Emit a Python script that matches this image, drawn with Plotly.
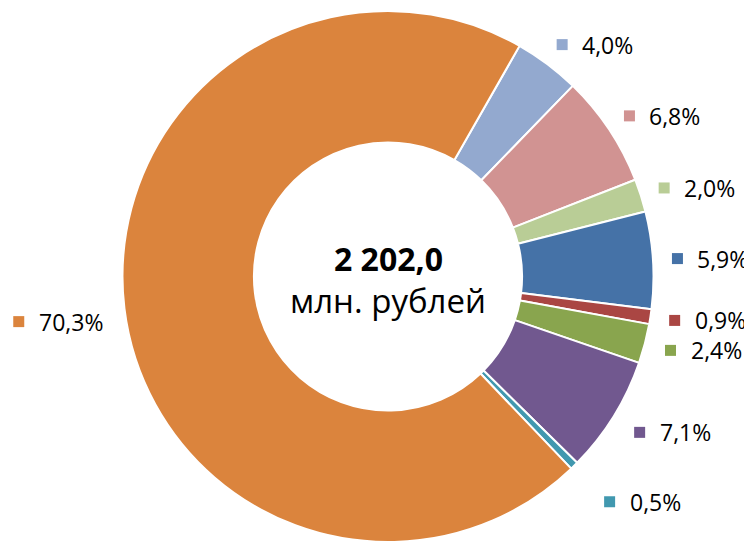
import numpy as np
import plotly.graph_objects as go

# slice shares, %, clockwise starting from the slice right after the big one
shares = [4.0, 6.8, 2.0, 5.9, 0.9, 2.4, 7.1, 0.5, 70.3]
labels = ["4,0%", "6,8%", "2,0%", "5,9%", "0,9%", "2,4%", "7,1%", "0,5%", "70,3%"]
colors = ["#93A9CF", "#D19392", "#B9CD96", "#4572A7", "#AA4643",
          "#89A54E", "#71588F", "#4198AF", "#DB843D"]
total_value = "2 202,0"
total_unit = "млн. рублей"

W, H = 752, 543
page_off = 8                      # default body margin of the html page
cx, cy, R = 388 - page_off, 276.5 - page_off, 265.5   # donut centre and radius in px
start_angle = 29.7                # first slice starts here (deg, clockwise from 12 o'clock)
label_r = [290, 290, 290, 290, 290, 292, 296, 316, 372]  # label distance from centre, px

deg = np.array(shares) / sum(shares) * 360
mid = start_angle + np.cumsum(deg) - deg / 2
mx = cx + np.array(label_r) * np.sin(np.radians(mid))
my = cy - np.array(label_r) * np.cos(np.radians(mid))

fig = go.Figure()
fig.add_trace(
    go.Pie(
        values=shares,
        sort=False,
        direction="clockwise",
        rotation=start_angle,
        hole=0.505,
        textinfo="none",
        hoverinfo="percent",
        marker=dict(colors=colors, line=dict(color="white", width=2)),
        domain=dict(x=[(cx - R) / W, (cx + R) / W], y=[1 - (cy + R) / H, 1 - (cy - R) / H]),
        showlegend=False,
    )
)
# legend keys next to data labels
fig.add_trace(
    go.Scatter(
        x=mx,
        y=my,
        mode="markers",
        marker=dict(symbol="square", size=11, color=colors, line=dict(width=0)),
        hoverinfo="skip",
        showlegend=False,
    )
)

annotations = [
    dict(x=x + 18, y=y, xref="x", yref="y", text=t, showarrow=False,
         xanchor="left", yanchor="middle", font=dict(size=23, color="#000000"))
    for x, y, t in zip(mx, my, labels)
]
annotations += [
    dict(x=cx, y=cy - 18, xref="x", yref="y", text=f"<b>{total_value}</b>", showarrow=False,
         xanchor="center", yanchor="middle", font=dict(size=32, color="#000000")),
    dict(x=cx, y=cy + 24, xref="x", yref="y", text=total_unit, showarrow=False,
         xanchor="center", yanchor="middle", font=dict(size=33, color="#000000")),
]

fig.update_layout(
    width=W,
    height=H,
    margin=dict(l=0, r=0, t=0, b=0),
    paper_bgcolor="white",
    plot_bgcolor="white",
    font=dict(family="Open Sans"),
    xaxis=dict(range=[0, W], visible=False, fixedrange=True),
    yaxis=dict(range=[H, 0], visible=False, fixedrange=True),
    annotations=annotations,
)

fig.write_html("out.html")
